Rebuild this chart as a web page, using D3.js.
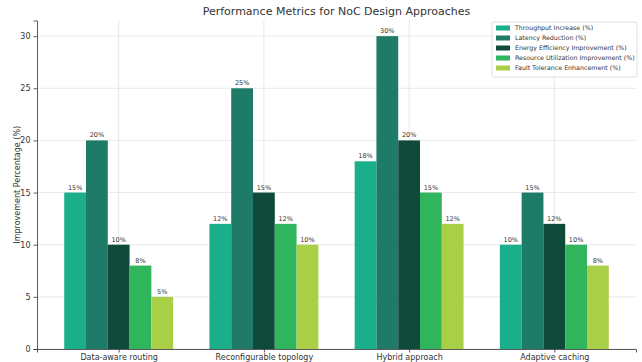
<!DOCTYPE html>
<html>
<head>
<meta charset="utf-8">
<script src="https://cdn.jsdelivr.net/npm/d3@7"></script>
<style>
  body { margin: 0; background: #fff; }
  svg { display: block; font-family: "DejaVu Sans", sans-serif; }
</style>
</head>
<body>
<svg id="chart" width="642" height="362"></svg>
<script>
// Approaches compared along the x axis
const categories = ["Data-aware routing", "Reconfigurable topology", "Hybrid approach", "Adaptive caching"];

// One array per metric, values in percent, same order as categories
const seriesNames = [
  "Throughput Increase (%)",
  "Latency Reduction (%)",
  "Energy Efficiency Improvement (%)",
  "Resource Utilization Improvement (%)",
  "Fault Tolerance Enhancement (%)"
];
const throughput = [15, 12, 18, 10];
const latency = [20, 25, 30, 15];
const energy = [10, 15, 20, 12];
const resource = [8, 12, 15, 10];
const faultTolerance = [5, 10, 12, 8];
const seriesValues = [throughput, latency, energy, resource, faultTolerance];
const seriesColors = ["#1aae8b", "#1d7b67", "#0f4a3a", "#31b55c", "#a8cf45"];

const yTicks = [0, 5, 10, 15, 20, 25, 30];

const svg = d3.select("#chart");
const margin = { left: 37, right: 6, top: 20.5, bottom: 13 };
const W = 642, H = 362;
const plotL = margin.left, plotR = W - margin.right;
const plotT = margin.top, plotB = H - margin.bottom;

// Numeric x positions per category, with bar slots offset around each
const nSeries = seriesValues.length;
const barW = 0.15;
const x = d3.scaleLinear().domain([-0.5625, 3.5625]).range([plotL, plotR]);
const y = d3.scaleLinear().domain([0, 31.5]).range([plotB, plotT]);

// Grid
const grid = svg.append("g");
grid.selectAll("line.h").data(yTicks).join("line")
  .attr("x1", plotL).attr("x2", plotR)
  .attr("y1", d => y(d)).attr("y2", d => y(d))
  .attr("stroke", "#e3e3e3").attr("stroke-width", 0.8);
grid.selectAll("line.v").data(categories).join("line")
  .attr("x1", (d, i) => x(i)).attr("x2", (d, i) => x(i))
  .attr("y1", plotT).attr("y2", plotB)
  .attr("stroke", "#e3e3e3").attr("stroke-width", 0.8);

// Bars
const bars = svg.append("g");
seriesValues.forEach((vals, s) => {
  const off = (s - (nSeries - 1) / 2) * barW;
  bars.selectAll(null).data(vals).join("rect")
    .attr("x", (d, i) => x(i + off - barW / 2))
    .attr("width", (d, i) => x(i + off + barW / 2) - x(i + off - barW / 2))
    .attr("y", d => y(d))
    .attr("height", d => y(0) - y(d))
    .attr("fill", seriesColors[s]);
  bars.selectAll(null).data(vals).join("text")
    .attr("x", (d, i) => x(i + off))
    .attr("y", d => y(d) - 3)
    .attr("text-anchor", "middle")
    .attr("font-size", 6.5)
    .attr("fill", "#333")
    .text(d => d + "%");
});

// Axes
const yAxis = d3.axisLeft(y).tickValues(yTicks).tickSize(3.5).tickPadding(3);
const gy = svg.append("g").attr("transform", `translate(${plotL},0)`).call(yAxis);
gy.select(".domain").attr("stroke", "#333").attr("stroke-width", 0.8);
gy.selectAll(".tick line").attr("stroke", "#333").attr("stroke-width", 0.8);
gy.selectAll("text").attr("font-size", 8).attr("fill", "#333").attr("font-family", "DejaVu Sans");

const xAxis = d3.axisBottom(x).tickValues(d3.range(categories.length))
  .tickFormat(i => categories[i]).tickSize(3.5).tickPadding(2);
const gx = svg.append("g").attr("transform", `translate(0,${plotB})`).call(xAxis);
gx.select(".domain").attr("stroke", "#333").attr("stroke-width", 0.8);
gx.selectAll(".tick line").attr("stroke", "#333").attr("stroke-width", 0.8);
gx.selectAll("text").attr("font-size", 8).attr("fill", "#333").attr("font-family", "DejaVu Sans");

// Titles
svg.append("text")
  .attr("x", (plotL + plotR) / 2).attr("y", 15)
  .attr("text-anchor", "middle")
  .attr("font-size", 11).attr("fill", "#333")
  .text("Performance Metrics for NoC Design Approaches");

svg.append("text")
  .attr("transform", `translate(20,${(plotT + plotB) / 2}) rotate(-90)`)
  .attr("text-anchor", "middle")
  .attr("font-size", 8).attr("fill", "#333")
  .text("Improvement Percentage (%)");

// Legend
const legend = svg.append("g").attr("transform", "translate(492,22)");
legend.append("rect")
  .attr("width", 145).attr("height", 55).attr("rx", 2)
  .attr("fill", "#fff").attr("fill-opacity", 0.85)
  .attr("stroke", "#d6d6d6").attr("stroke-width", 0.8);
seriesNames.forEach((name, s) => {
  const g = legend.append("g").attr("transform", `translate(4,${6 + s * 10})`);
  g.append("rect").attr("width", 14).attr("height", 5).attr("y", -2.5).attr("fill", seriesColors[s]);
  g.append("text").attr("x", 19).attr("y", 2.3)
    .attr("font-size", 6.3).attr("fill", "#333").text(name);
});
</script>
</body>
</html>
